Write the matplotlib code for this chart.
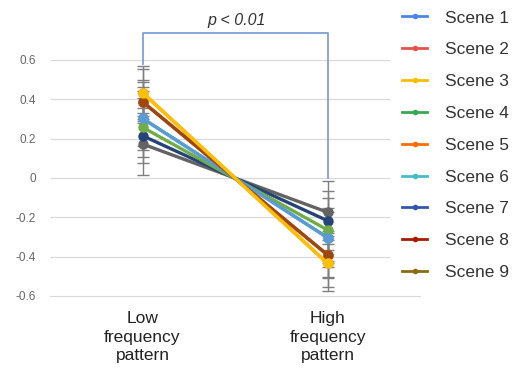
import numpy as np
import matplotlib.pyplot as plt
from matplotlib.lines import Line2D

plt.rcParams['font.family'] = ['Liberation Sans', 'DejaVu Sans']

# categories on the x axis
conditions = ['Low\nfrequency\npattern', 'High\nfrequency\npattern']
scenes = ['Scene %d' % i for i in range(1, 10)]

# mean response per scene (low, high)
low_vals = [0.303, 0.388, 0.434, 0.258, 0.434, 0.303, 0.215, 0.388, 0.173]
high_vals = [-0.303, -0.391, -0.434, -0.264, -0.434, -0.303, -0.217, -0.391, -0.174]
# error bar half-widths
low_err = [0.16, 0.10, 0.135, 0.15, 0.12, 0.14, 0.14, 0.11, 0.16]
high_err = [0.15, 0.11, 0.14, 0.16, 0.12, 0.13, 0.15, 0.12, 0.16]

# colours of the drawn lines, and of the legend swatches
line_colors = ['#5b9bd5', '#c0504d', '#ffc000', '#70ad47', '#ed7d31',
               '#4bacc6', '#264478', '#9e480e', '#636363']
legend_colors = ['#4a86e8', '#e5534b', '#fbbc04', '#34a853', '#ff6d01',
                 '#46bdc6', '#3256b0', '#a61c00', '#8a6d0b']
# drawing order (hidden scenes first)
order = [1, 4, 5, 8, 6, 3, 0, 7, 2]

fig = plt.figure(figsize=(5.19, 3.72), dpi=100)
ax = fig.add_axes([50 / 519, 1 - 296 / 372, 370 / 519, 236 / 372])

x = np.arange(len(conditions))
for i in order:
    ax.errorbar(x, [low_vals[i], high_vals[i]], yerr=[low_err[i], high_err[i]],
                fmt='none', ecolor='#7f7f7f', elinewidth=1, capsize=4,
                capthick=1, zorder=2)
for i in order:
    ax.plot(x, [low_vals[i], high_vals[i]], color=line_colors[i], lw=2.4,
            marker='o', ms=6.5, zorder=3)

ax.set_xlim(-0.5, 1.5)
ax.set_ylim(-0.6, 0.6)
yt = np.arange(-0.6, 0.61, 0.2)
ax.set_yticks(yt)
ax.set_yticklabels(['-0.6', '-0.4', '-0.2', '0', '0.2', '0.4', '0.6'])
ax.set_xticks(x)
ax.set_xticklabels(conditions, fontsize=12.5, color='#222222', linespacing=1.3)
ax.tick_params(axis='y', length=0, pad=10, labelsize=8.5, labelcolor='#666666')
ax.tick_params(axis='x', length=0, pad=11)
# gridlines stop short of the legend
ax.hlines(yt[1:], -0.5, 1.338, color='#d9d9d9', lw=0.9, zorder=0)
for s in ['top', 'right', 'left']:
    ax.spines[s].set_visible(False)
ax.spines['bottom'].set_color('#d9d9d9')

# significance bracket
ax.plot([0, 0, 1, 1], [0.58, 0.737, 0.737, 0.0], color='#7f9fd8', lw=1.3,
        clip_on=False, zorder=1)
ax.text(0.51, 0.80, 'p < 0.01', style='italic', fontsize=11.5, color='#333333',
        ha='center', va='center')

handles = [Line2D([0], [0], color=c, lw=2, marker='o', ms=3) for c in legend_colors]
leg = fig.legend(handles, scenes, loc='upper left', bbox_to_anchor=(392 / 519, 1.0),
                 frameon=False, fontsize=12.5, handlelength=1.4, handletextpad=1.05,
                 labelspacing=0.96, borderpad=0.3, borderaxespad=0.3)
for t in leg.get_texts():
    t.set_color('#333333')

fig.savefig('out.png', dpi=100)
